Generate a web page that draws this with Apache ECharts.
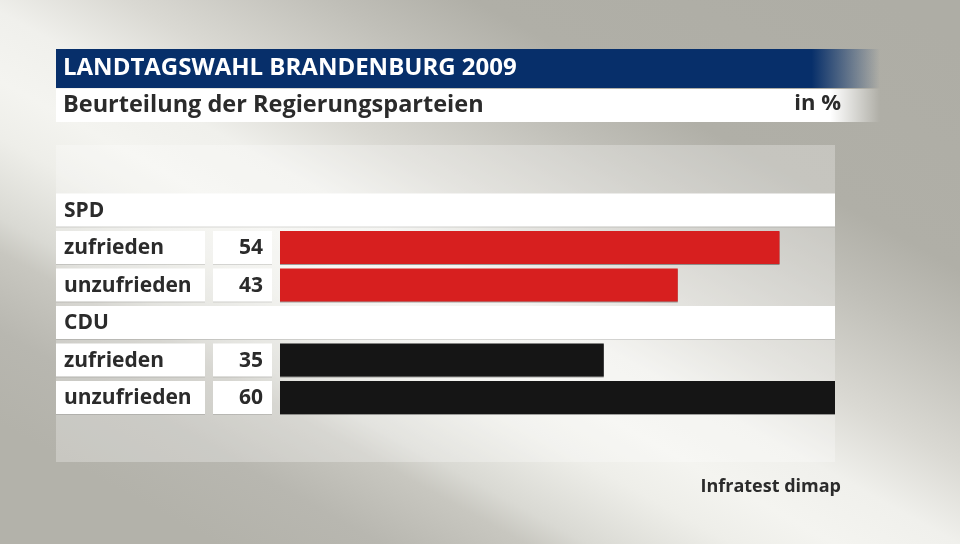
<!DOCTYPE html>
<html>
<head>
<meta charset="utf-8">
<script src="https://cdn.jsdelivr.net/npm/echarts@6/dist/echarts.min.js"></script>
<style>
html,body{margin:0;padding:0;width:960px;height:544px;overflow:hidden;background:#b3b2aa;}
#chart{width:960px;height:544px;}
</style>
</head>
<body>
<div id="chart"></div>
<script>
// ---- data ----
const titleText = 'LANDTAGSWAHL BRANDENBURG 2009';
const subtitleText = 'Beurteilung der Regierungsparteien';
const unitText = 'in %';
const sourceText = 'Infratest dimap';
const groups = ['SPD', 'CDU'];
const answerLabels = ['zufrieden', 'unzufrieden'];
const spdValues = [54, 43];
const cduValues = [35, 60];
const groupColors = ['#d71f1f', '#151515'];
const axisMax = 60;

// build rows: header, then answers per group
const groupValues = [spdValues, cduValues];
const rows = [];
groups.forEach((g, gi) => {
  rows.push({ label: g, header: true, value: null, color: null });
  answerLabels.forEach((a, ai) => {
    rows.push({ label: a, header: false, value: groupValues[gi][ai], color: groupColors[gi] });
  });
});
const rowNames = rows.map((r, i) => String(i));

const FONT = '"Open Sans", "DejaVu Sans", sans-serif';
const TXT = '#2b2b2b';

const gridTop = 191.25, gridH = 225, gridL = 56, gridR = 835;

// diagonal light band background (global gradient coordinates)
const bgGradient = new echarts.graphic.LinearGradient(254, 679, 690.5, -108.5, [
  { offset: 0, color: '#b3b2aa' },
  { offset: 0.111, color: '#b3b2aa' },
  { offset: 0.2, color: '#b8b7b0' },
  { offset: 0.278, color: '#c8c7c0' },
  { offset: 0.311, color: '#d9d9d3' },
  { offset: 0.389, color: '#eeeee9' },
  { offset: 0.444, color: '#f4f4f0' },
  { offset: 0.511, color: '#f0f0ec' },
  { offset: 0.589, color: '#dad9d3' },
  { offset: 0.7, color: '#c0bfb8' },
  { offset: 0.778, color: '#b0afa7' },
  { offset: 1, color: '#aeada5' }
], true);

const chart = echarts.init(document.getElementById('chart'), null, { renderer: 'canvas' });

chart.setOption({
  backgroundColor: 'transparent',
  animation: false,
  title: [
    { text: titleText, left: 63, top: 56, padding: 0, textStyle: { color: '#ffffff', fontFamily: FONT, fontWeight: 'bold', fontSize: 24 } },
    { text: subtitleText, left: 63, top: 93, padding: 0, textStyle: { color: TXT, fontFamily: FONT, fontWeight: 'bold', fontSize: 23.5 } },
    { text: unitText, right: 960 - 841, top: 93, padding: 0, textStyle: { color: TXT, fontFamily: FONT, fontWeight: 'bold', fontSize: 22 } },
    { text: sourceText, right: 960 - 841, top: 478, padding: 0, textStyle: { color: TXT, fontFamily: FONT, fontWeight: 'bold', fontSize: 18 } }
  ],
  graphic: [
    { type: 'rect', z: -20, shape: { x: 0, y: 0, width: 960, height: 544 },
      style: { fill: bgGradient } },
    { type: 'rect', z: -10, shape: { x: 56, y: 145, width: 779, height: 317 },
      style: { fill: 'rgba(255,255,255,0.28)' } },
    { type: 'rect', z: -5, shape: { x: 56, y: 49, width: 824, height: 39 },
      style: { fill: new echarts.graphic.LinearGradient(0, 0, 1, 0, [
        { offset: 0, color: 'rgba(7,47,106,1)' },
        { offset: 0.917, color: 'rgba(7,47,106,1)' },
        { offset: 1, color: 'rgba(7,47,106,0)' }]) } },
    { type: 'rect', z: -5, shape: { x: 56, y: 89, width: 824, height: 33 },
      style: { fill: new echarts.graphic.LinearGradient(0, 0, 1, 0, [
        { offset: 0, color: 'rgba(255,255,255,1)' },
        { offset: 0.94, color: 'rgba(255,255,255,1)' },
        { offset: 1, color: 'rgba(255,255,255,0)' }]) } }
  ],
  grid: [
    { left: gridL, width: gridR - gridL, top: gridTop, height: gridH, containLabel: false },
    { left: 280, width: gridR - 280, top: gridTop, height: gridH, containLabel: false }
  ],
  xAxis: [
    { gridIndex: 0, type: 'value', min: 0, max: 1, show: false },
    { gridIndex: 1, type: 'value', min: 0, max: axisMax, show: false }
  ],
  yAxis: [
    { gridIndex: 0, type: 'category', data: rowNames, inverse: true, show: false },
    { gridIndex: 1, type: 'category', data: rowNames, inverse: true, show: false }
  ],
  series: [
    {
      type: 'custom',
      xAxisIndex: 0, yAxisIndex: 0,
      data: rows.map((r, i) => [0, i]),
      renderItem: function (params, api) {
        const idx = api.value(1);
        const r = rows[idx];
        const p = api.coord([0, idx]);
        const bh = 33;
        const y0 = p[1] - bh / 2;
        const x0 = p[0];
        if (r.header) {
          return { type: 'group', children: [
            { type: 'rect', shape: { x: x0, y: y0, width: gridR - gridL, height: bh },
              style: { fill: '#ffffff', shadowColor: 'rgba(0,0,0,0.12)', shadowOffsetY: 1 } },
            { type: 'text', style: { x: x0 + 8, y: p[1] + 1, text: r.label, fill: TXT,
              font: 'bold 21px ' + FONT, textVerticalAlign: 'middle', textAlign: 'left' } }
          ] };
        }
        return { type: 'group', children: [
          { type: 'rect', shape: { x: x0, y: y0, width: 149, height: bh },
            style: { fill: '#ffffff', shadowColor: 'rgba(0,0,0,0.12)', shadowOffsetY: 1 } },
          { type: 'rect', shape: { x: x0 + 157, y: y0, width: 59, height: bh },
            style: { fill: '#ffffff', shadowColor: 'rgba(0,0,0,0.12)', shadowOffsetY: 1 } },
          { type: 'text', style: { x: x0 + 8, y: p[1] + 1, text: r.label, fill: TXT,
            font: 'bold 21px ' + FONT, textVerticalAlign: 'middle', textAlign: 'left' } },
          { type: 'text', style: { x: x0 + 207, y: p[1] + 1, text: String(r.value), fill: TXT,
            font: 'bold 21px ' + FONT, textVerticalAlign: 'middle', textAlign: 'right' } }
        ] };
      }
    },
    {
      type: 'bar',
      xAxisIndex: 1, yAxisIndex: 1,
      barWidth: 33,
      data: rows.map(r => r.value === null ? null : { value: r.value, itemStyle: { color: r.color } }),
      itemStyle: { shadowColor: 'rgba(0,0,0,0.35)', shadowOffsetY: 1 },
      label: { show: false }
    }
  ]
});
</script>
</body>
</html>
